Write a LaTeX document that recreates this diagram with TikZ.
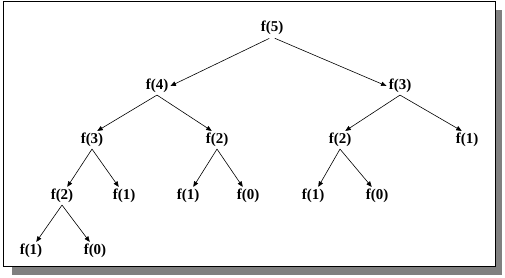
\documentclass[tikz,border=0pt]{standalone}
\usepackage{fontspec}
\setmainfont{Liberation Serif}
\usetikzlibrary{arrows.meta}
\tikzset{
  call/.style = {inner sep=2pt, font=\fontsize{15}{15}\selectfont\bfseries},
  ar/.style   = {-{Triangle[length=5.5pt,width=4.5pt]}, draw=black, line width=0.6pt}
}
\begin{document}
\begin{tikzpicture}[x=1pt, y=-1pt]
  \useasboundingbox (0,0) rectangle (505,277);
  % ===================== frame with shadow =====================
  \fill[black!50] (12,10) rectangle (502,275);
  \draw[fill=white, line width=0.9pt] (3,1) rectangle (495,266);

  % ===================== call tree =====================
  \node[call] (r)    at (272,28)  {f(5)};
  \node[call] (a)    at (157,86)  {f(4)};
  \node[call] (b)    at (400,86)  {f(3)};
  \node[call] (aa)   at (92,140)  {f(3)};
  \node[call] (ab)   at (217,140) {f(2)};
  \node[call] (ba)   at (340,140) {f(2)};
  \node[call] (bb)   at (467,140) {f(1)};
  \node[call] (aaa)  at (62,196)  {f(2)};
  \node[call] (aab)  at (124,196) {f(1)};
  \node[call] (aba)  at (188,196) {f(1)};
  \node[call] (abb)  at (248,196) {f(0)};
  \node[call] (baa)  at (313,196) {f(1)};
  \node[call] (bab)  at (377,196) {f(0)};
  \node[call] (aaaa) at (31,251)  {f(1)};
  \node[call] (aaab) at (95,251)  {f(0)};

  % ===================== arrows =====================
  \draw[ar, shorten <=3pt] (r.south) -- (a.east);
  \draw[ar, shorten <=3pt] (r.south) -- (b.west);
  \foreach \p/\l/\r in {a/aa/ab, b/ba/bb, aa/aaa/aab, ab/aba/abb, ba/baa/bab, aaa/aaaa/aaab} {
    \draw[ar] (\p.south) -- (\l.60);
    \draw[ar] (\p.south) -- (\r.120);
  }
\end{tikzpicture}
\end{document}
